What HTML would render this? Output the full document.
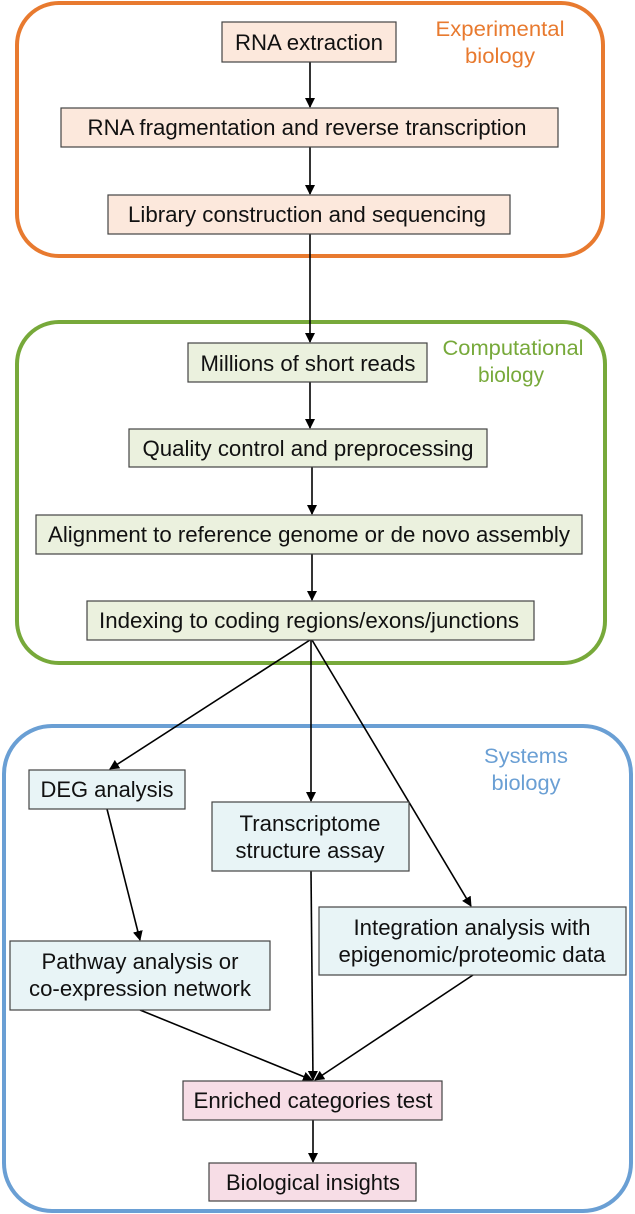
<!DOCTYPE html>
<html><head><meta charset="utf-8"><style>html,body{margin:0;padding:0;background:#fff}svg{display:block}</style></head><body>
<svg width="635" height="1214" viewBox="0 0 635 1214" xmlns="http://www.w3.org/2000/svg" font-family="Liberation Sans, sans-serif" font-size="22">
<defs><marker id="a" markerWidth="10" markerHeight="10" refX="9" refY="5" orient="auto" markerUnits="userSpaceOnUse"><path d="M0,0 L10,5 L0,10 z" fill="#000"/></marker></defs>
<rect x="17" y="3" width="586" height="253" rx="42" fill="none" stroke="#e87a2f" stroke-width="4"/>
<rect x="17" y="322" width="588" height="341" rx="42" fill="none" stroke="#77a93a" stroke-width="4"/>
<rect x="4" y="726" width="627" height="485" rx="48" fill="none" stroke="#6a9fd4" stroke-width="4"/>
<g fill="#e87a2f" font-size="21" text-anchor="middle"><text x="500" y="36" textLength="129" lengthAdjust="spacingAndGlyphs">Experimental</text><text x="500" y="63" textLength="70" lengthAdjust="spacingAndGlyphs">biology</text></g>
<g fill="#77a93a" font-size="21" text-anchor="middle"><text x="513" y="355" textLength="141" lengthAdjust="spacingAndGlyphs">Computational</text><text x="511" y="382" textLength="66" lengthAdjust="spacingAndGlyphs">biology</text></g>
<g fill="#6a9fd4" font-size="21" text-anchor="middle"><text x="526" y="763" textLength="84" lengthAdjust="spacingAndGlyphs">Systems</text><text x="526" y="790" textLength="69" lengthAdjust="spacingAndGlyphs">biology</text></g>
<g stroke="#000" stroke-width="1.6" fill="none" marker-end="url(#a)">
<line x1="310" y1="62" x2="310" y2="107"/><line x1="310" y1="147" x2="310" y2="194"/>
<line x1="310" y1="234" x2="310" y2="342"/><line x1="310" y1="382" x2="310" y2="428"/>
<line x1="312" y1="467" x2="312" y2="514"/><line x1="312" y1="554" x2="312" y2="600"/>
<line x1="310" y1="640" x2="110" y2="769"/><line x1="311" y1="640" x2="311" y2="801"/>
<line x1="312" y1="640" x2="471" y2="906"/><line x1="107" y1="809" x2="140" y2="940"/>
<line x1="140" y1="1010" x2="312" y2="1080"/><line x1="311" y1="871" x2="313" y2="1080"/>
<line x1="473" y1="975" x2="315" y2="1080"/><line x1="313" y1="1120" x2="313" y2="1162"/>
</g>
<g stroke="#444" stroke-width="1.2">
<rect x="222" y="22" width="174" height="40" fill="#fce8dc"/>
<rect x="61" y="108" width="497" height="39" fill="#fce8dc"/>
<rect x="108" y="195" width="402" height="39" fill="#fce8dc"/>
<rect x="188" y="343" width="239" height="39" fill="#ebf1de"/>
<rect x="129" y="429" width="358" height="38" fill="#ebf1de"/>
<rect x="36" y="515" width="546" height="39" fill="#ebf1de"/>
<rect x="87" y="601" width="447" height="39" fill="#ebf1de"/>
<rect x="29" y="770" width="156" height="39" fill="#e8f4f6"/>
<rect x="212" y="802" width="197" height="69" fill="#e8f4f6"/>
<rect x="319" y="907" width="307" height="68" fill="#e8f4f6"/>
<rect x="10" y="941" width="260" height="69" fill="#e8f4f6"/>
<rect x="183" y="1081" width="259" height="39" fill="#f7dde6"/>
<rect x="209" y="1163" width="207" height="38" fill="#f7dde6"/>
</g>
<g fill="#111" text-anchor="middle">
<text x="309" y="50" textLength="148" lengthAdjust="spacingAndGlyphs">RNA extraction</text>
<text x="307" y="135" textLength="439" lengthAdjust="spacingAndGlyphs">RNA fragmentation and reverse transcription</text>
<text x="307" y="222" textLength="358" lengthAdjust="spacingAndGlyphs">Library construction and sequencing</text>
<text x="308" y="371" textLength="215" lengthAdjust="spacingAndGlyphs">Millions of short reads</text>
<text x="308" y="456" textLength="331" lengthAdjust="spacingAndGlyphs">Quality control and preprocessing</text>
<text x="309" y="542" textLength="522" lengthAdjust="spacingAndGlyphs">Alignment to reference genome or de novo assembly</text>
<text x="309" y="628" textLength="420" lengthAdjust="spacingAndGlyphs">Indexing to coding regions/exons/junctions</text>
<text x="107" y="797" textLength="133" lengthAdjust="spacingAndGlyphs">DEG analysis</text>
<text x="310" y="831" textLength="141" lengthAdjust="spacingAndGlyphs">Transcriptome</text><text x="310" y="858" textLength="149" lengthAdjust="spacingAndGlyphs">structure assay</text>
<text x="472" y="935" textLength="237" lengthAdjust="spacingAndGlyphs">Integration analysis with</text><text x="472" y="962" textLength="267" lengthAdjust="spacingAndGlyphs">epigenomic/proteomic data</text>
<text x="140" y="969" textLength="197" lengthAdjust="spacingAndGlyphs">Pathway analysis or</text><text x="140" y="996" textLength="222" lengthAdjust="spacingAndGlyphs">co-expression network</text>
<text x="313" y="1108" textLength="239" lengthAdjust="spacingAndGlyphs">Enriched categories test</text>
<text x="313" y="1190" textLength="174" lengthAdjust="spacingAndGlyphs">Biological insights</text>
</g>
</svg>
</body></html>
